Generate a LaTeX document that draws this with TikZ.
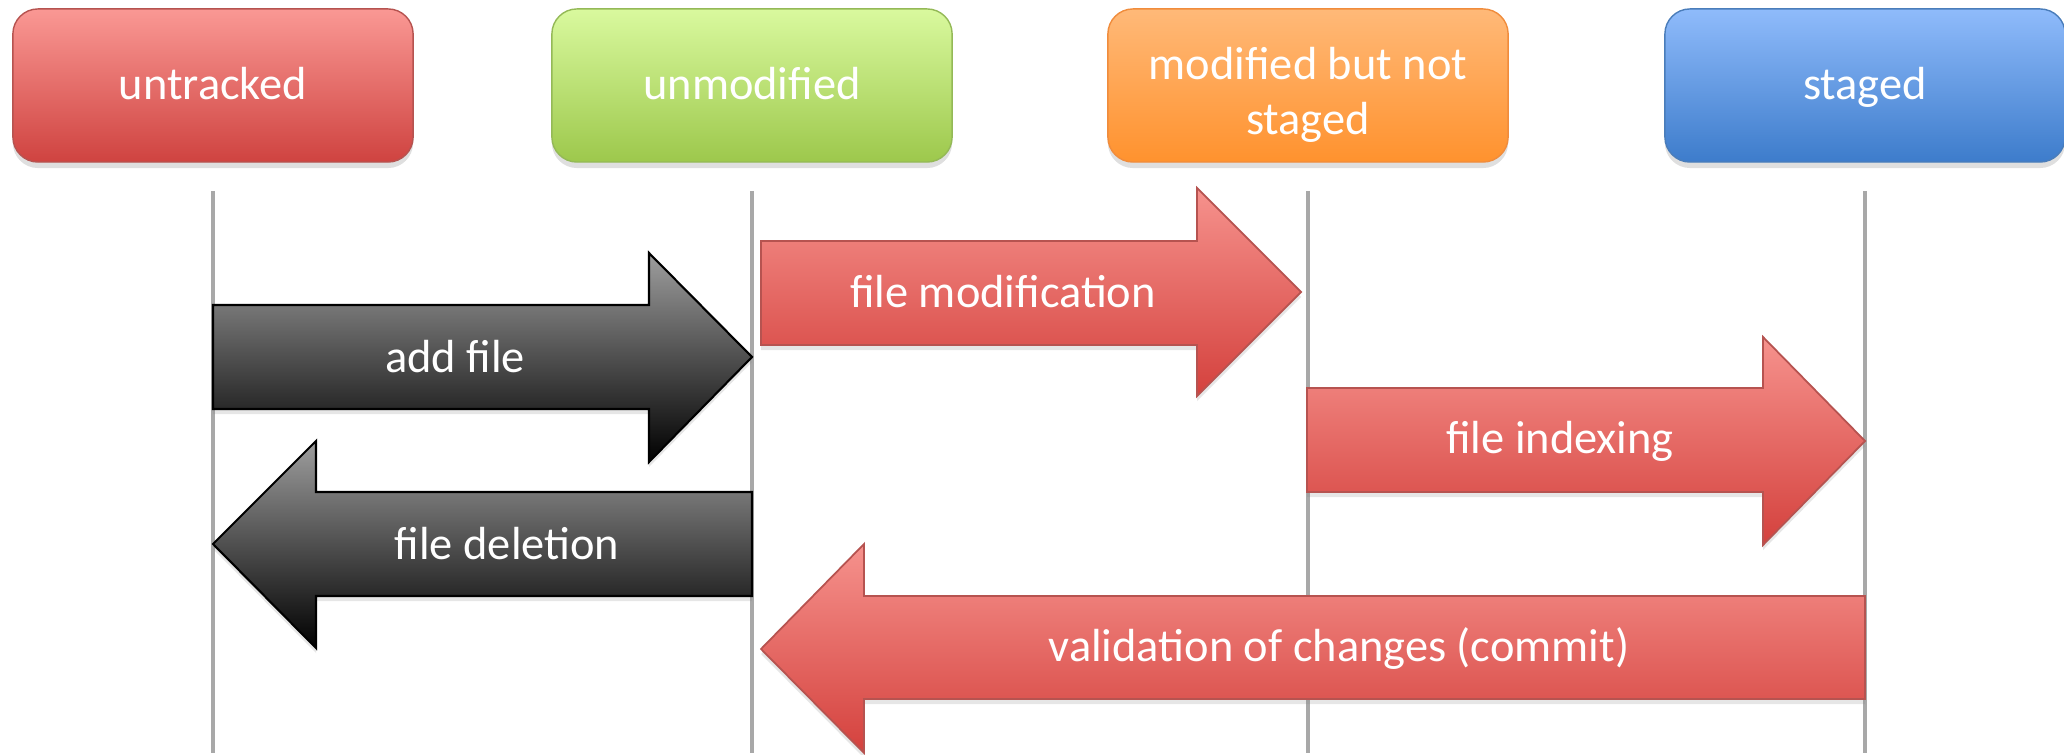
\documentclass[tikz,border=0pt]{standalone}
\usepackage{fontspec}
\setmainfont{Carlito}
\usetikzlibrary{shadows, positioning}

\definecolor{redtop}{HTML}{FA9894}
\definecolor{redbot}{HTML}{CF4340}
\definecolor{redline}{HTML}{B65350}
\definecolor{greentop}{HTML}{D9F99E}
\definecolor{greenbot}{HTML}{9DC84C}
\definecolor{greenline}{HTML}{94B957}
\definecolor{orangetop}{HTML}{FFB978}
\definecolor{orangebot}{HTML}{FF922E}
\definecolor{orangeline}{HTML}{F08C3C}
\definecolor{bluetop}{HTML}{8FBBFB}
\definecolor{bluebot}{HTML}{3D7CCB}
\definecolor{blueline}{HTML}{4A7DBA}
\definecolor{lanegray}{HTML}{A8A8A8}
\definecolor{arrowtop}{HTML}{F6928D}
\definecolor{arrowbot}{HTML}{D4413D}

\tikzstyle{statebox} = [rectangle, rounded corners=0.25cm, minimum width=4cm, minimum height=1.53cm, align=center, text=white, text height=1.05em, text depth=0.25em, font=\fontsize{13.2}{15.5}\selectfont, drop shadow={shadow xshift=0pt, shadow yshift=-0.6mm, opacity=0.25}]
\tikzstyle{lane} = [draw=lanegray, line width=1.2pt]
\tikzstyle{redarrow} = [draw=redline, line width=0.5pt, top color=arrowtop, bottom color=arrowbot, drop shadow={shadow xshift=0pt, shadow yshift=-0.5mm, opacity=0.2}]
\tikzstyle{blackarrow} = [draw=black, line width=0.6pt, top color=black!38, bottom color=black, drop shadow={shadow xshift=0pt, shadow yshift=-0.5mm, opacity=0.2}]
\tikzstyle{arrowtext} = [text=white, font=\fontsize{13.2}{15.5}\selectfont]

\begin{document}
\begin{tikzpicture}[x=0.01cm, y=-0.01cm]
\useasboundingbox (0,0) rectangle (2064,755);

% Nodes
\node (untracked) [statebox, draw=redline, top color=redtop, bottom color=redbot] at (213,85.5) {untracked};
\node (unmodified) [statebox, draw=greenline, top color=greentop, bottom color=greenbot] at (752,85.5) {unmodified};
\node (modified) [statebox, draw=orangeline, top color=orangetop, bottom color=orangebot, text height=30.3pt] at (1308,85.5) {modified but not\\staged};
\node (staged) [statebox, draw=blueline, top color=bluetop, bottom color=bluebot] at (1865,85.5) {staged};

% Lanes
\coordinate (untrackedtop) at (untracked.south |- 0,191);
\coordinate (untrackedend) at (untracked.south |- 0,753);
\coordinate (unmodifiedtop) at (unmodified.south |- 0,191);
\coordinate (unmodifiedend) at (unmodified.south |- 0,753);
\coordinate (modifiedtop) at (modified.south |- 0,191);
\coordinate (modifiedend) at (modified.south |- 0,753);
\coordinate (stagedtop) at (staged.south |- 0,191);
\coordinate (stagedend) at (staged.south |- 0,753);
\draw [lane] (untrackedtop) -- (untrackedend);
\draw [lane] (unmodifiedtop) -- (unmodifiedend);
\draw [lane] (modifiedtop) -- (modifiedend);
\draw [lane] (stagedtop) -- (stagedend);

% Arrows
\path [blackarrow] (213,305) -- (649,305) -- (649,253) -- (752,357) -- (649,462) -- (649,409) -- (213,409) -- cycle;
\path [redarrow] (761,241) -- (1197,241) -- (1197,188) -- (1301,292) -- (1197,396) -- (1197,345) -- (761,345) -- cycle;
\path [redarrow] (1307,388) -- (1763,388) -- (1763,337) -- (1865,441) -- (1763,545) -- (1763,492) -- (1307,492) -- cycle;
\path [blackarrow] (213,544) -- (316,441) -- (316,492) -- (752,492) -- (752,596) -- (316,596) -- (316,648) -- cycle;
\path [redarrow] (761,649) -- (864,544) -- (864,596) -- (1865,596) -- (1865,699) -- (864,699) -- (864,753) -- cycle;

% Labels
\node (addfile) [arrowtext] at (455,357) {add file};
\node (modification) [arrowtext] at (1003,292) {file modification};
\node (indexing) [arrowtext] at (1560,441) {file indexing};
\node (deletion) [arrowtext] at (507,544) {file deletion};
\node (commit) [arrowtext] at (1339,649) {validation of changes (commit)};

\end{tikzpicture}
\end{document}
